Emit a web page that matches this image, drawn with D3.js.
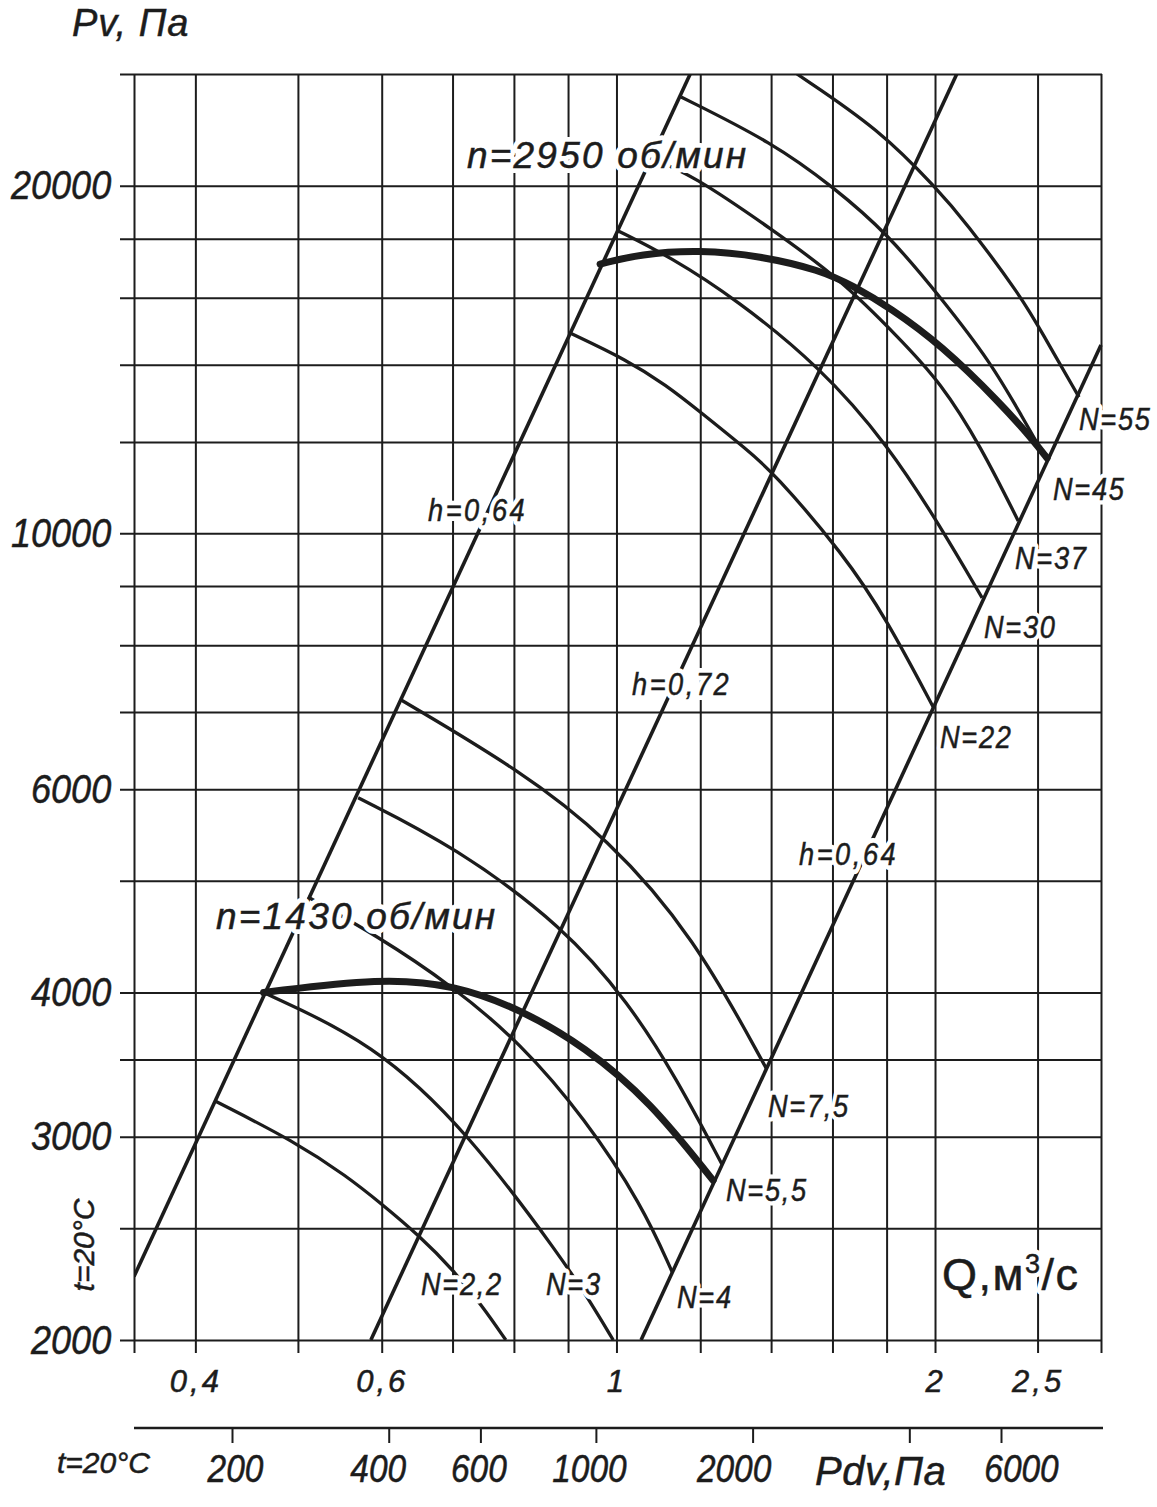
<!DOCTYPE html>
<html><head><meta charset="utf-8">
<script src="https://cdn.jsdelivr.net/npm/d3@7"></script>
<style>
body{margin:0;background:#fff;}
svg{display:block;background:#fff;}
text{font-family:"Liberation Sans", Arial, Helvetica, sans-serif; fill:#1c1c1c;}
</style></head><body>
<svg id="chart" width="1157" height="1507"></svg>
<script>
// ---------- axes / ticks ----------
const qDomain = [0.35, 2.87];          // Q, m3/s (log)
const pDomain = [2000, 25000];         // Pv, Pa (log)
const qGridTicks = [0.4, 0.5, 0.6, 0.7, 0.8, 0.9, 1, 1.2, 1.4, 1.6, 1.8, 2, 2.5];
const qLabelTicks = [0.4, 0.6, 1, 2, 2.5];
const pGridTicks = [2000, 2500, 3000, 3500, 4000, 5000, 6000, 7000, 8000, 9000, 10000, 12000, 14000, 16000, 18000, 20000, 25000];
const pLabelTicks = [2000, 3000, 4000, 6000, 10000, 20000];
const pdvTicks = [200, 400, 600, 1000, 2000, 4000, 6000];
const pdvLabelTicks = [200, 400, 600, 1000, 2000, 6000];

// ---------- efficiency lines h (Q, Pv) ----------
const h064LeftQ = [0.350, 1.174];  const h064LeftP = [2270, 25000];
const h072Q = [0.586, 2.097];      const h072P = [2000, 25000];
const h064RightQ = [1.055, 2.870]; const h064RightP = [2000, 14560];

// ---------- n = 1430 rpm ----------
const n1430_N22_Q = [0.418, 0.497, 0.557, 0.598, 0.652, 0.701, 0.747, 0.786];
const n1430_N22_P = [3220, 2970, 2770, 2630, 2460, 2300, 2140, 2000];
const n1430_N3_Q = [0.464, 0.589, 0.724, 0.892, 0.944, 0.993];
const n1430_N3_P = [4000, 3620, 3030, 2340, 2160, 2000];
const n1430_N4_Q = [0.511, 0.594, 0.698, 0.811, 0.934, 1.057, 1.129];
const n1430_N4_P = [4840, 4480, 4060, 3620, 3110, 2620, 2290];
const n1430_N55_Q = [0.570, 0.704, 0.892, 1.027, 1.140, 1.258];
const n1430_N55_P = [5900, 5350, 4560, 3920, 3370, 2840];
const n1430_N75_Q = [0.626, 0.811, 0.980, 1.183, 1.385];
const n1430_N75_P = [7170, 6230, 5450, 4480, 3440];
const n1430_main_Q = [0.464, 0.600, 0.704, 0.811, 0.934, 1.076, 1.234];
const n1430_main_P = [4000, 4120, 4060, 3870, 3590, 3220, 2750];

// ---------- n = 2950 rpm ----------
const n2950_N22_Q = [0.904, 1.023, 1.114, 1.200, 1.329, 1.406, 1.641, 1.802, 1.992];
const n2950_N22_P = [14910, 14130, 13440, 12740, 11810, 11300, 9580, 8410, 7070];
const n2950_N30_Q = [1.004, 1.124, 1.300, 1.557, 1.806, 2.027, 2.216];
const n2950_N30_P = [18280, 17360, 15930, 13940, 11930, 10110, 8790];
const n2950_N37_Q = [1.076, 1.176, 1.406, 1.627, 1.846, 2.027, 2.211, 2.397];
const n2950_N37_P = [21140, 20480, 18310, 16610, 14790, 13500, 11880, 10250];
const n2950_N45_Q = [1.151, 1.406, 1.603, 1.802, 2.027, 2.260, 2.418, 2.552];
const n2950_N45_P = [23880, 21790, 19950, 18200, 15990, 14050, 12610, 11570];
const n2950_N55_Q = [1.481, 1.775, 2.009, 2.131, 2.418, 2.525, 2.736];
const n2950_N55_P = [25000, 22360, 19870, 18680, 15990, 14910, 13120];
const n2950_main_Q = [0.965, 1.053, 1.200, 1.367, 1.557, 1.674, 1.814, 2.027, 2.305, 2.476, 2.552];
const n2950_main_P = [17110, 17460, 17600, 17390, 16910, 16380, 15680, 14560, 12970, 12040, 11620];

// ---------- drawing ----------
const svg = d3.select("#chart");
const plotLeft = 134, plotRight = 1101, plotTop = 74, plotBottom = 1340;
const ink = "#1c1c1c";
const textStroke = 0.5;

const x = d3.scaleLog().domain(qDomain).range([plotLeft, plotRight]);
const y = d3.scaleLog().domain(pDomain).range([plotBottom, plotTop]);
const xPdv = d3.scaleLog().domain([pdvTicks[0], pdvTicks[pdvTicks.length - 1]]).range([232, 1001]);

const zip = (qs, ps) => qs.map((q, i) => [q, ps[i]]);

// horizontal grid (extends left as ticks)
const gy = svg.append("g").attr("color", ink).attr("transform", `translate(${plotLeft - 14},0)`)
  .call(d3.axisLeft(y).tickValues(pGridTicks).tickSize(-(plotRight + 1 - (plotLeft - 14))).tickFormat(() => ""));
gy.select(".domain").remove();
gy.selectAll(".tick line").attr("stroke-width", 2);

// vertical grid (extends below as ticks)
const gx = svg.append("g").attr("color", ink).attr("transform", `translate(0,${plotTop})`)
  .call(d3.axisBottom(x).tickValues([qDomain[0], ...qGridTicks, qDomain[1]]).tickSize(plotBottom + 13 - plotTop).tickFormat(() => ""));
gx.select(".domain").remove();
gx.selectAll(".tick line").attr("stroke-width", 2);

// Y labels
const yl = svg.append("g").attr("transform", `translate(${plotLeft - 14},0)`)
  .call(d3.axisLeft(y).tickValues(pLabelTicks).tickSize(0).tickPadding(10).tickFormat(d3.format("d")));
yl.select(".domain").remove();
yl.selectAll("text").attr("font-size", 41).attr("font-style", "italic").attr("fill", ink)
  .attr("stroke", ink).attr("stroke-width", textStroke)
  .attr("font-family", "Liberation Sans, Arial, sans-serif")
  .attr("transform", "scale(0.88,1)");

// Q labels
const xl = svg.append("g").attr("transform", `translate(0,${plotBottom})`)
  .call(d3.axisBottom(x).tickValues(qLabelTicks).tickSize(0).tickPadding(30)
    .tickFormat(d => String(d).replace(".", ",")));
xl.select(".domain").remove();
xl.selectAll("text").attr("font-size", 31).attr("font-style", "italic").attr("fill", ink)
  .attr("stroke", ink).attr("stroke-width", textStroke)
  .attr("font-family", "Liberation Sans, Arial, sans-serif").attr("letter-spacing", 3);

// Pdv axis
svg.append("line").attr("x1", x.range()[0]).attr("x2", x.range()[1] + 2)
  .attr("y1", 1428).attr("y2", 1428).attr("stroke", ink).attr("stroke-width", 2.5);
const pa = svg.append("g").attr("color", ink).attr("transform", "translate(0,1428)")
  .call(d3.axisBottom(xPdv).tickValues(pdvTicks).tickSize(15).tickPadding(12)
    .tickFormat(d => pdvLabelTicks.includes(d) ? String(d) : ""));
pa.select(".domain").remove();
pa.selectAll(".tick line").attr("stroke-width", 2);
const pdvNudge = { 200: 3, 400: -11, 600: -2, 1000: -7, 2000: -19, 6000: 20 };
pa.selectAll(".tick text").attr("font-size", 38).attr("font-style", "italic").attr("fill", ink)
  .attr("stroke", ink).attr("stroke-width", textStroke)
  .attr("font-family", "Liberation Sans, Arial, sans-serif")
  .attr("transform", d => `translate(${pdvNudge[d] || 0},0) scale(0.88,1)`);

// clip
svg.append("clipPath").attr("id", "plotclip").append("rect")
  .attr("x", plotLeft).attr("y", plotTop).attr("width", plotRight - plotLeft + 2).attr("height", plotBottom - plotTop);
const plot = svg.append("g").attr("clip-path", "url(#plotclip)");

const straight = d3.line().x(d => x(d[0])).y(d => y(d[1]));
const smooth = d3.line().x(d => x(d[0])).y(d => y(d[1])).curve(d3.curveBasis);

const effLines = [[h064LeftQ, h064LeftP], [h072Q, h072P], [h064RightQ, h064RightP]];
effLines.forEach(([q, p]) => plot.append("path").attr("d", straight(zip(q, p)))
  .attr("fill", "none").attr("stroke", ink).attr("stroke-width", 3.6));

const thinCurves = [
  [n1430_N22_Q, n1430_N22_P], [n1430_N3_Q, n1430_N3_P], [n1430_N4_Q, n1430_N4_P],
  [n1430_N55_Q, n1430_N55_P], [n1430_N75_Q, n1430_N75_P],
  [n2950_N22_Q, n2950_N22_P], [n2950_N30_Q, n2950_N30_P], [n2950_N37_Q, n2950_N37_P],
  [n2950_N45_Q, n2950_N45_P], [n2950_N55_Q, n2950_N55_P]
];
thinCurves.forEach(([q, p]) => plot.append("path").attr("d", smooth(zip(q, p)))
  .attr("fill", "none").attr("stroke", ink).attr("stroke-width", 3.3));

[[n1430_main_Q, n1430_main_P], [n2950_main_Q, n2950_main_P]].forEach(([q, p]) =>
  plot.append("path").attr("d", smooth(zip(q, p)))
    .attr("fill", "none").attr("stroke", ink).attr("stroke-width", 7).attr("stroke-linecap", "round"));

// ---------- text labels ----------
function label(str, px, py, o) {
  const g = svg.append("g").attr("transform", o.rotate
    ? `translate(${px},${py}) rotate(${o.rotate})`
    : `translate(${px},${py}) scale(${o.sx || 1},1)`);
  const mk = () => g.append("text").attr("font-size", o.size)
    .attr("font-style", o.italic === false ? "normal" : "italic")
    .attr("letter-spacing", o.ls || 0).attr("text-anchor", o.anchor || "start").text(str);
  if (o.halo) mk().attr("fill", "#fff").attr("stroke", "#fff").attr("stroke-width", o.halo).attr("stroke-linejoin", "round");
  return mk().attr("fill", ink).attr("stroke", ink).attr("stroke-width", textStroke);
}

const speedLabels = ["n=2950 об/мин", "n=1430 об/мин"];
label(speedLabels[0], 467, 168, { size: 37, ls: 2.2, halo: 10 });
label(speedLabels[1], 216, 929, { size: 37, ls: 2.2, halo: 10 });

const effLabels = ["h=0,64", "h=0,72", "h=0,64"];
label(effLabels[0], 428, 521, { size: 32, sx: 0.85, ls: 3, halo: 10 });
label(effLabels[1], 632, 695, { size: 32, sx: 0.85, ls: 3, halo: 10 });
label(effLabels[2], 799, 865, { size: 32, sx: 0.85, ls: 3, halo: 10 });

const powerLabels = ["N=55", "N=45", "N=37", "N=30", "N=22", "N=7,5", "N=5,5", "N=4", "N=3", "N=2,2"];
const powerPos = [[1079, 430], [1053, 500], [1015, 569], [984, 638], [940, 748],
                  [768, 1117], [726, 1201], [677, 1308], [546, 1295], [421, 1295]];
powerLabels.forEach((s, i) => label(s, powerPos[i][0], powerPos[i][1], { size: 32, sx: 0.85, ls: 2, halo: 9 }));

label("Pv, Па", 72, 36, { size: 38, ls: 1 });
label("Pdv,Па", 815, 1485, { size: 40, ls: 0.5 });
label("t=20°C", 57, 1473, { size: 30 });
label("t=20°C", 94, 1245, { size: 30, anchor: "middle", rotate: -90 });

// Q, м³/с
function qLabel(fill, stroke, sw) {
  const qt = svg.append("text").attr("x", 942).attr("y", 1290).attr("font-size", 45)
    .attr("letter-spacing", 1.5).attr("fill", fill)
    .attr("stroke", stroke).attr("stroke-width", sw).attr("stroke-linejoin", "round");
  qt.append("tspan").text("Q,м");
  qt.append("tspan").attr("font-size", 27).attr("dy", -17).text("3");
  qt.append("tspan").attr("dy", 17).text("/с");
}
qLabel("#fff", "#fff", 10);
qLabel(ink, ink, textStroke);
</script>
</body></html>
